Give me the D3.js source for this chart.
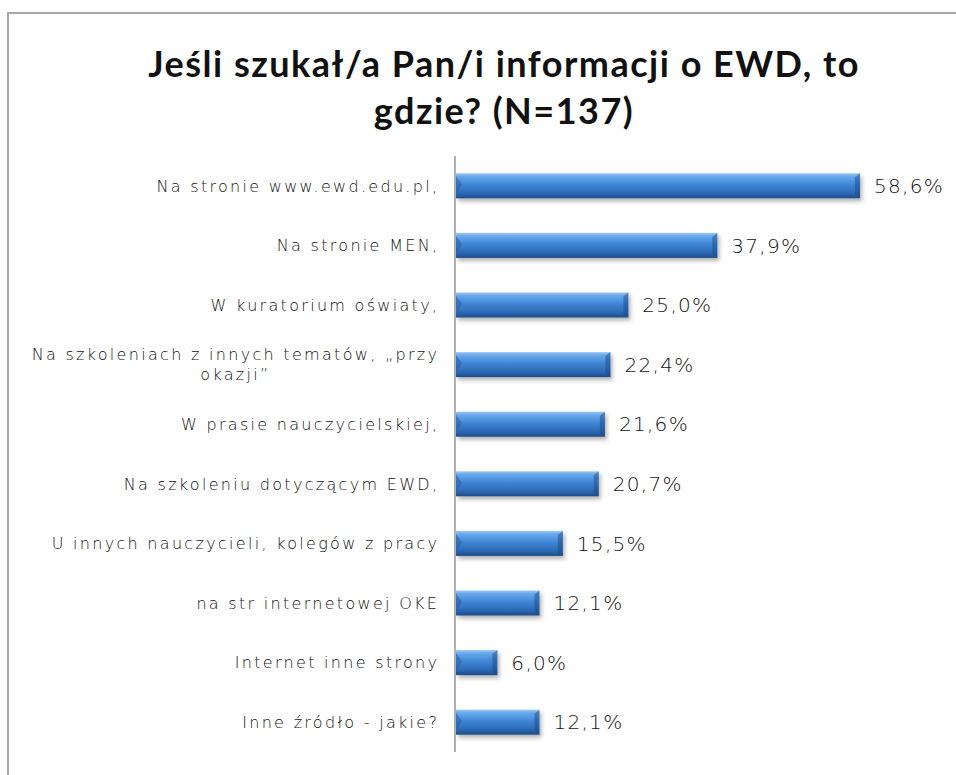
<!DOCTYPE html>
<html>
<head>
<meta charset="utf-8">
<script src="https://cdn.jsdelivr.net/npm/d3@7"></script>
<style>
  html, body { margin: 0; padding: 0; background: #fff; }
  svg { display: block; }
</style>
</head>
<body>
<svg id="chart" width="956" height="775"></svg>
<script>
const titleLines = ["Jeśli szukał/a Pan/i informacji o EWD, to", "gdzie? (N=137)"];
const categories = [
  "Na stronie www.ewd.edu.pl,",
  "Na stronie MEN,",
  "W kuratorium oświaty,",
  "Na szkoleniach z innych tematów, „przy\nokazji”",
  "W prasie nauczycielskiej,",
  "Na szkoleniu dotyczącym EWD,",
  "U innych nauczycieli, kolegów z pracy",
  "na str internetowej  OKE",
  "Internet inne strony",
  "Inne źródło - jakie?"
];
const values = [58.6, 37.9, 25.0, 22.4, 21.6, 20.7, 15.5, 12.1, 6.0, 12.1];

const svg = d3.select("#chart");

// frame
svg.append("rect").attr("x", 8).attr("y", 13).attr("width", 960).attr("height", 800)
  .attr("fill", "#fff").attr("stroke", "#a6a6a6").attr("stroke-width", 2);

// defs
const defs = svg.append("defs");
const grad = defs.append("linearGradient").attr("id", "barGrad")
  .attr("x1", 0).attr("y1", 0).attr("x2", 0).attr("y2", 1);
[["0%", "#9cc8f2"], ["12%", "#6aaaec"], ["45%", "#3f86d6"], ["80%", "#2b68b4"], ["100%", "#1e4c86"]]
  .forEach(([o, c]) => grad.append("stop").attr("offset", o).attr("stop-color", c));
const shadow = defs.append("filter").attr("id", "shadow")
  .attr("x", "-5%").attr("y", "-30%").attr("width", "115%").attr("height", "180%");
shadow.append("feDropShadow").attr("dx", 2).attr("dy", 3).attr("stdDeviation", 2)
  .attr("flood-color", "#000").attr("flood-opacity", 0.3);

// title
const title = svg.append("text")
  .attr("text-anchor", "middle")
  .attr("font-family", "Lato, 'Noto Sans', sans-serif")
  .attr("font-weight", "bold")
  .attr("font-size", 36)
  .attr("letter-spacing", 1.5)
  .attr("fill", "#111");
titleLines.forEach((t, i) => title.append("tspan").attr("x", 504).attr("y", 77 + i * 47).text(t));

// scales
const x = d3.scaleLinear().domain([0, 60]).range([455, 455 + 6.894 * 60]);
const y = d3.scaleBand().domain(categories).range([156, 752]).paddingInner(0.58).paddingOuter(0.29);

// bars
const bars = svg.append("g");
bars.selectAll("rect").data(values).join("rect")
  .attr("x", x(0) + 1)
  .attr("y", (d, i) => y(categories[i]))
  .attr("width", d => x(d) - x(0))
  .attr("height", y.bandwidth())
  .attr("fill", "url(#barGrad)")
  .attr("filter", "url(#shadow)");
bars.selectAll("path.lend").data(values).join("path")
  .attr("class", "lend")
  .attr("d", (d, i) => {
    const y0 = y(categories[i]), h = y.bandwidth(), x0 = x(0) + 1;
    return `M${x0},${y0 + 3}L${x0 + 6},${y0 + h * 0.45}L${x0},${y0 + h - 3}Z`;
  })
  .attr("fill", "#2a62a8").attr("opacity", 0.6);
bars.selectAll("path.rend").data(values).join("path")
  .attr("class", "rend")
  .attr("d", (d, i) => {
    const y0 = y(categories[i]), h = y.bandwidth(), x1 = x(d) + 1;
    return `M${x1},${y0}L${x1 - 5},${y0 + 4}L${x1 - 5},${y0 + h - 4}L${x1},${y0 + h}Z`;
  })
  .attr("fill", "#1d4a82").attr("opacity", 0.5);

// axis line
svg.append("line").attr("x1", 455).attr("x2", 455).attr("y1", 156).attr("y2", 752)
  .attr("stroke", "#868686").attr("stroke-width", 1.3);

// value labels
const fmt = d3.formatLocale({decimal: ",", thousands: " ", grouping: [3], currency: ["", ""]}).format(".1f");
svg.append("g").selectAll("text").data(values).join("text")
  .attr("x", d => x(d) + 15)
  .attr("y", (d, i) => y(categories[i]) + y.bandwidth() / 2)
  .attr("dy", "0.36em")
  .attr("font-family", "'DejaVu Sans', sans-serif")
  .attr("font-weight", 300)
  .attr("font-size", 20)
  .attr("letter-spacing", 1.3)
  .attr("fill", "#111")
  .text(d => fmt(d) + "%");

// category labels
const LS = 2.3;
const lab = svg.append("g").attr("font-family", "'DejaVu Sans', sans-serif")
  .attr("font-weight", 300)
  .attr("font-size", 16).attr("letter-spacing", LS).attr("fill", "#111");
categories.forEach((c, i) => {
  const lines = c.split("\n");
  const cy = y(c) + y.bandwidth() / 2;
  const lh = 20;
  const t = lab.append("text").attr("text-anchor", "end");
  const first = t.append("tspan").attr("x", 437 + LS).attr("y", cy - (lines.length - 1) * lh / 2).attr("dy", "0.36em").text(lines[0]);
  if (lines.length > 1) {
    const w = first.node().getComputedTextLength();
    for (let k = 1; k < lines.length; k++) {
      lab.append("text").attr("text-anchor", "middle")
        .attr("x", 437 + LS - w / 2)
        .attr("y", cy - (lines.length - 1) * lh / 2 + k * lh)
        .attr("dy", "0.36em").text(lines[k]);
    }
  }
});
</script>
</body>
</html>
